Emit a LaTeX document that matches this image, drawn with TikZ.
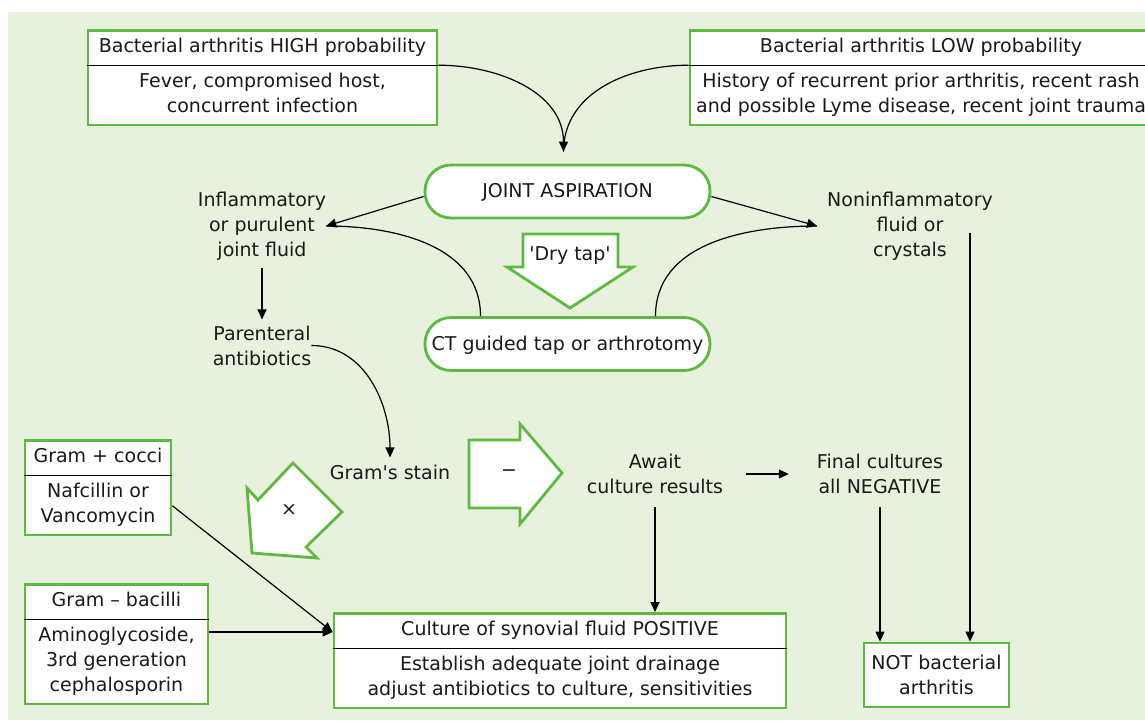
\documentclass[tikz,border=0pt]{standalone}
\usepackage{fontspec}
\newfontfamily\dvsans{DejaVu Sans}
\usetikzlibrary{shapes.multipart,arrows.meta,calc}
\definecolor{bgtint}{HTML}{E8F0DE}
\definecolor{boxgreen}{HTML}{5CBB3E}
\definecolor{ink}{HTML}{1A1A1A}

\begin{document}
\begin{tikzpicture}[x=1pt,y=-1pt,
      every node/.style={font=\dvsans\fontsize{19}{25}\selectfont, text=ink},
      label text/.style={align=center, inner sep=0pt},
      split box/.style={rectangle split, rectangle split parts=2,
        rectangle split draw splits=false, draw=boxgreen, line width=2.8pt,
        fill=white, align=center, inner xsep=6pt, inner ysep=3.5pt, anchor=north},
      plain box/.style={draw=boxgreen, line width=2.8pt, fill=white, align=center,
        minimum width=145pt, minimum height=64pt, inner sep=0pt},
      pill/.style={draw=boxgreen, line width=2.8pt, fill=white, rounded corners=26pt,
        minimum width=285pt, minimum height=53pt, inner sep=0pt, text depth=2pt},
      block arrow/.style={draw=boxgreen, line width=2.8pt, fill=white, line join=miter},
      link/.style={line width=1.2pt},
      arr/.style={link, -{Triangle[length=10pt,width=9pt]}}]
    \useasboundingbox (0,0) rectangle (1145,720);
    \fill[bgtint] (8,12) rectangle (1145,720);

    % probability boxes
    \node[split box, minimum width=349pt] (high) at (262.5,29)
      {\strut Bacterial arthritis HIGH probability
       \nodepart{two}\strut Fever, compromised host,\\concurrent infection\strut};
    \node[split box, minimum width=462pt] (low) at (921,29)
      {\strut Bacterial arthritis LOW probability
       \nodepart{two}\strut History of recurrent prior arthritis, recent rash\\and possible Lyme disease, recent joint trauma\strut};

    \node[pill] (ja) at (567.5,191.5) {JOINT ASPIRATION};
    \node[pill] (ct) at (567.5,344) {CT guided tap or arthrotomy};

    \node[label text] (infl) at (262,226) {Inflammatory\\or purulent\\joint fluid};
    \node[label text] (nonin) at (910,226) {Noninflammatory\\fluid or\\crystals};
    \node[label text] (par) at (262,345.5) {Parenteral\\antibiotics};
    \node[label text] (gs) at (390,472) {Gram's stain};
    \node[label text] (await) at (655,474) {Await\\culture results};
    \node[label text] (final) at (880,474) {Final cultures\\all NEGATIVE};

    % treatment boxes
    \node[split box, minimum width=146pt] (gp) at (98,439)
      {\strut Gram + cocci
       \nodepart{two}\strut Nafcillin or\\Vancomycin\strut};
    \node[split box, minimum width=183pt] (gm) at (116.5,583)
      {\strut Gram – bacilli
       \nodepart{two}\strut Aminoglycoside,\\3rd generation\\cephalosporin\strut};
    \node[split box, minimum width=452pt] (pos) at (560,612)
      {\strut Culture of synovial fluid POSITIVE
       \nodepart{two}\strut Establish adequate joint drainage\\adjust antibiotics to culture, sensitivities\strut};
    \node[plain box] (nb) at (936.5,675) {NOT bacterial\\arthritis};

    \foreach \b in {high,low,gp,gm,pos}
      \draw[link] (\b.one split west) -- (\b.one split east);

    % block arrows
    \draw[block arrow] (523,234) -- (618,234) -- (618,267) -- (633,267) -- (570,308)
      -- (507,267) -- (523,267) -- cycle;
    \node (dry) at (570,256) {'Dry tap'};
    \draw[block arrow] (469,440) -- (520,440) -- (520,424) -- (562,473) -- (520,524)
      -- (520,508) -- (469,508) -- cycle;
    \node (minus) at (509,473) {−};
    \draw[block arrow] (293,463) -- (342,512) -- (306,547) -- (317,558) -- (252,553)
      -- (247,488) -- (258,500) -- cycle;
    \node (cross) at (289,510) {×};

    % connectors
    \draw[arr] (high.one split east) to[out=0,in=90] ([xshift=-4pt,yshift=12pt]ja.north);
    \draw[link] (low.one split west) to[out=180,in=90] ([xshift=-4pt,yshift=12pt]ja.north);
    \draw[arr] ([yshift=-5pt]ja.west) -- (infl.east);
    \draw[link] ([xshift=-87pt]ct.north) to[out=90,in=0] (infl.east);
    \draw[arr] ([yshift=-5pt]ja.east) -- ([xshift=-10pt]nonin.west);
    \draw[link] ([xshift=88pt]ct.north) to[out=90,in=180] ([xshift=-10pt]nonin.west);
    \draw[arr, shorten <=8pt, shorten >=6pt] (infl) -- (par);
    \draw[arr] (par.east) to[out=0,in=90] ([yshift=7pt]gs.north);
    \draw[arr, shorten <=23pt, shorten >=28pt] (await.east) -- (final.west);
    \draw[arr, shorten <=13pt] (await.south) -- (await.south |- pos.north);
    \draw[arr, shorten <=13pt] (final.south) -- (final.south |- nb.north);
    \coordinate (nv) at (970,233);
    \draw[arr] (nv) -- (nv |- nb.north);
    \coordinate (pin) at ([yshift=-20pt]pos.north west);
    \draw[arr] ($(gp.one split east)!0.5!(gp.south east)$) -- (pin);
    \draw[arr] (pin -| gm.east) -- (pin);
\end{tikzpicture}
\end{document}
